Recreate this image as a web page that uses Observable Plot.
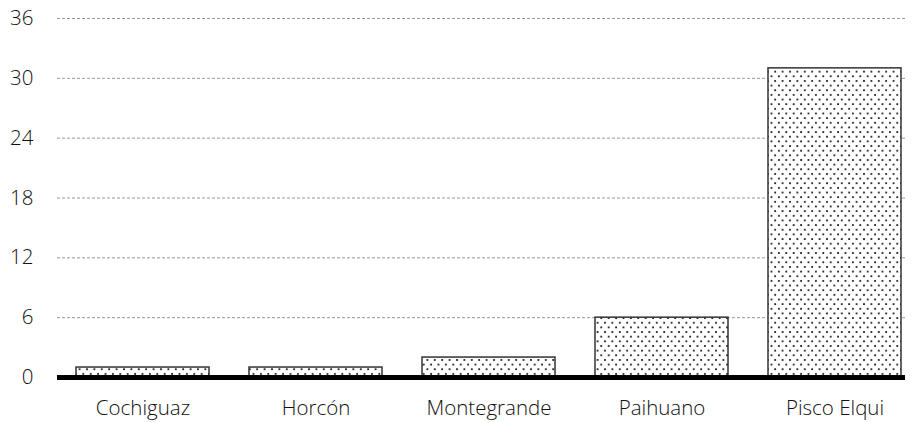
<!DOCTYPE html>
<html><head><meta charset="utf-8">
<script src="https://cdn.jsdelivr.net/npm/d3@7"></script>
<script src="https://cdn.jsdelivr.net/npm/@observablehq/plot@0.6"></script>
<style>body{margin:0;background:#fff;} svg{font-family:"Open Sans",sans-serif;}</style>
</head><body><div id="chart"></div>
<script>
const categories = ["Cochiguaz", "Horcón", "Montegrande", "Paihuano", "Pisco Elqui"];
const values = [1, 1, 2, 6, 31];
const yTicks = [0, 6, 12, 18, 24, 30, 36];
const data = categories.map((c, i) => ({cat: c, v: values[i]}));

const chart = Plot.plot({
  width: 915, height: 423,
  marginLeft: 57, marginRight: 10, marginTop: 18, marginBottom: 46,
  style: {fontFamily: "'Open Sans', sans-serif", fontSize: "20.5px", fontWeight: 300, color: "#111"},
  x: {domain: categories, range: [58, 920], paddingInner: 0.23, paddingOuter: 0.1, label: null},
  y: {domain: [0, 36], ticks: yTicks, label: null},
  marks: [
    Plot.ruleY(yTicks.filter(t => t > 0), {stroke: "#999", strokeDasharray: "3,2", strokeWidth: 1}),
    Plot.barY(data, {x: "cat", y: "v", fill: "url(#dots)", stroke: "#333", strokeWidth: 1.5}),
    Plot.ruleY([0], {stroke: "#000", strokeWidth: 5}),
    Plot.axisY({ticks: yTicks, tickSize: 0, tickPadding: 24, fontSize: 20.5, label: null}),
    Plot.axisX({tickSize: 0, tickPadding: 23, fontSize: 20.5, label: null})
  ]
});
const svg = d3.select(chart);
const defs = svg.insert("defs", ":first-child");
const pat = defs.append("pattern").attr("id", "dots").attr("patternUnits", "userSpaceOnUse")
  .attr("width", 7.4).attr("height", 9.3);
pat.append("rect").attr("width", 7.4).attr("height", 9.3).attr("fill", "#fff");
pat.append("rect").attr("x", 1).attr("y", 1).attr("width", 1.8).attr("height", 1.8).attr("fill", "#222");
pat.append("rect").attr("x", 4.7).attr("y", 5.65).attr("width", 1.8).attr("height", 1.8).attr("fill", "#222");
document.getElementById("chart").appendChild(chart);
</script></body></html>
